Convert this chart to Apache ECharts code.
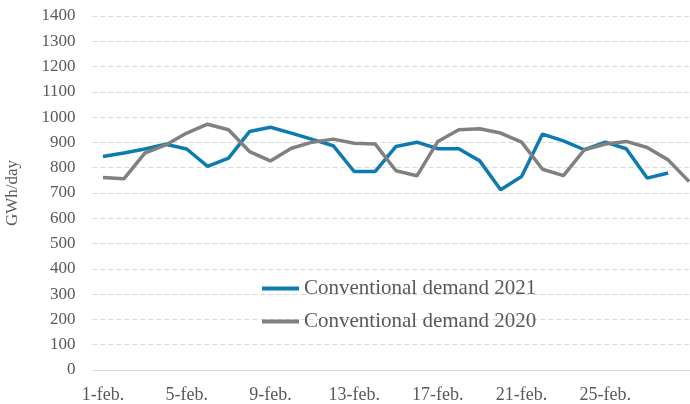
<!DOCTYPE html>
<html>
<head>
<meta charset="utf-8">
<script src="https://cdn.jsdelivr.net/npm/echarts@6/dist/echarts.min.js"></script>
<style>
  html, body { margin: 0; padding: 0; background: #fff; }
  #chart { width: 690px; height: 404px; }
</style>
</head>
<body>
<div id="chart"></div>
<script>
  // one category per day of February (2020 had 29 days)
  const days = [];
  for (let d = 1; d <= 29; d++) days.push(d + '-feb.');
  const tickLabels = ['1-feb.', '5-feb.', '9-feb.', '13-feb.', '17-feb.', '21-feb.', '25-feb.'];

  const demand2021 = [844, 858, 874, 893, 874, 805, 838, 943, 960, 937, 912, 887, 785, 785,
    884, 901, 875, 875, 827, 713, 765, 933, 906, 871, 901, 875, 759, 779];
  const demand2020 = [761, 756, 858, 890, 937, 972, 950, 864, 827, 877, 901, 913, 897, 894,
    788, 768, 904, 950, 954, 937, 901, 794, 769, 871, 894, 904, 880, 831, 745];

  const font = '"Liberation Serif", "DejaVu Serif", serif';
  const textColor = '#595959';

  const chart = echarts.init(document.getElementById('chart'), null, { renderer: 'canvas' });
  chart.setOption({
    animation: false,
    textStyle: { fontFamily: font },
    grid: { left: 92.5, top: 16, width: 607, height: 354, outerBoundsMode: 'none', containLabel: false },
    legend: {
      orient: 'vertical',
      left: 262,
      top: 278,
      padding: 0,
      icon: 'rect',
      itemWidth: 37,
      itemHeight: 4,
      itemGap: 12,
      textStyle: { fontFamily: font, fontSize: 21, color: textColor, lineHeight: 21 },
    },
    xAxis: {
      type: 'category',
      data: days,
      boundaryGap: true,
      axisLine: { lineStyle: { color: '#d9d9d9', width: 1 } },
      axisTick: { show: false },
      axisLabel: {
        interval: (idx, v) => tickLabels.indexOf(v) >= 0,
        color: textColor,
        fontFamily: font,
        fontSize: 18,
        margin: 16,
      },
    },
    yAxis: {
      type: 'value',
      min: 0,
      max: 1400,
      interval: 100,
      name: 'GWh/day',
      nameLocation: 'middle',
      nameGap: 71,
      nameMoveOverlap: false,
      nameTextStyle: { fontFamily: font, fontSize: 17, color: textColor },
      axisLine: { show: false },
      axisTick: { show: false },
      axisLabel: { color: textColor, fontFamily: font, fontSize: 17, margin: 17, formatter: (v) => String(v) },
      splitLine: { lineStyle: { color: '#d9d9d9', type: [5, 3], width: 1 } },
    },
    series: [
      {
        name: 'Conventional demand 2021',
        type: 'line',
        data: demand2021,
        symbol: 'none',
        lineStyle: { color: '#0e7bb0', width: 3.5 },
        itemStyle: { color: '#0e7bb0' },
      },
      {
        name: 'Conventional demand 2020',
        type: 'line',
        data: demand2020,
        symbol: 'none',
        lineStyle: { color: '#808080', width: 3.5 },
        itemStyle: { color: '#808080' },
      },
    ],
  });
</script>
</body>
</html>
